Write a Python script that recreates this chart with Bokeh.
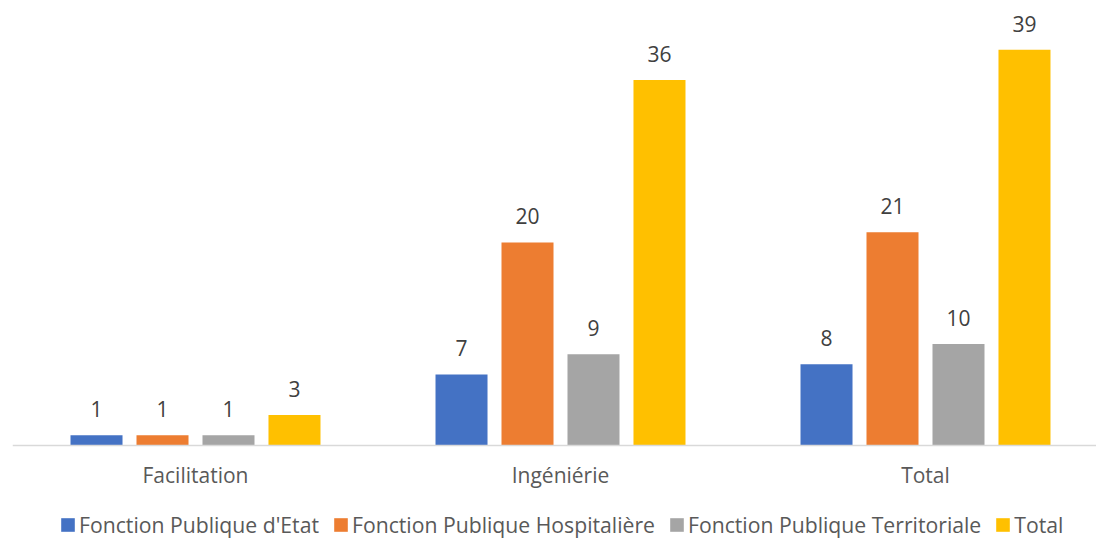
from bokeh.plotting import figure
from bokeh.models import ColumnDataSource, Range1d, FixedTicker, Legend, LegendItem, LabelSet
from bokeh.core.properties import value
from bokeh.embed import file_html
from bokeh.resources import INLINE

categories = ["Facilitation", "Ingéniérie", "Total"]
series = ["Fonction Publique d'Etat", "Fonction Publique Hospitalière",
          "Fonction Publique Territoriale", "Total"]
etat = [1, 7, 8]
hospitaliere = [1, 20, 21]
territoriale = [1, 9, 10]
total = [3, 36, 39]
colors = ["#4472C4", "#ED7D31", "#A5A5A5", "#FFC000"]

values = [etat, hospitaliere, territoriale, total]
offsets = [-0.2712, -0.0904, 0.0904, 0.2712]
bar_w = 0.1425

FONT = "Open Sans"

p = figure(width=1096, height=539, output_backend="svg", toolbar_location=None,
           x_range=Range1d(-0.50137, 2.4685), y_range=Range1d(-9.261, 43.84),
           min_border_left=12, min_border_right=0, min_border_top=0, min_border_bottom=0)
p.outline_line_color = None
p.xgrid.grid_line_color = None
p.ygrid.grid_line_color = None
p.yaxis.visible = False
p.background_fill_color = "white"
p.border_fill_color = "white"

items = []
for i, (vals, off, col, name) in enumerate(zip(values, offsets, colors, series)):
    xs = [k + off for k in range(len(categories))]
    src = ColumnDataSource(dict(x=xs, top=vals, lab=[str(v) for v in vals]))
    r = p.vbar(x="x", top="top", width=bar_w, bottom=0, source=src,
               fill_color=col, line_color=None)
    items.append(LegendItem(label=name, renderers=[r]))
    lbl = LabelSet(x="x", y="top", text="lab", source=src, text_align="center",
                   text_baseline="alphabetic", y_offset=18, text_font=value(FONT),
                   text_font_size="21px", text_color="#404040")
    p.add_layout(lbl)

ax = p.xaxis[0]
ax.fixed_location = 0
ax.ticker = FixedTicker(ticks=[0, 1, 2])
ax.major_label_overrides = {0: categories[0], 1: categories[1], 2: categories[2]}
ax.axis_line_color = "#D9D9D9"
ax.axis_line_width = 1.5
ax.major_tick_line_color = None
ax.minor_tick_line_color = None
ax.major_tick_out = 0
ax.major_tick_in = 0
ax.major_label_standoff = 16
ax.major_label_text_font = FONT
ax.major_label_text_font_size = "21px"
ax.major_label_text_color = "#595959"

legend = Legend(items=items, orientation="horizontal", location=(47, 0),
                label_text_font=FONT, label_text_font_size="21.2px",
                label_text_color="#595959", glyph_width=17, glyph_height=17,
                label_standoff=3, spacing=13, padding=0, margin=0,
                border_line_color=None, background_fill_alpha=0)
p.add_layout(legend)

open("out.html", "w").write(file_html(p, INLINE))
